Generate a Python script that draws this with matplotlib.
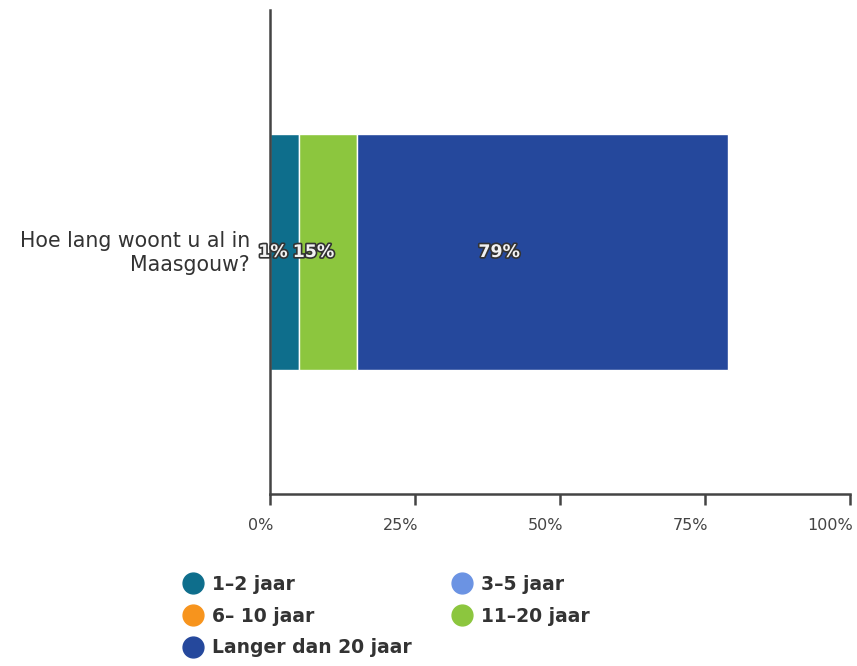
import matplotlib
matplotlib.use("Agg")
import matplotlib.pyplot as plt
import matplotlib.patheffects as pe
import matplotlib.transforms as mtransforms
from matplotlib.lines import Line2D

# data
question = "Hoe lang woont u al in\nMaasgouw?"
series = ["1–2 jaar", "3–5 jaar", "6– 10 jaar", "11–20 jaar", "Langer dan 20 jaar"]
values = [5, 0, 0, 10, 64]
colors = ["#0e6e8c", "#6b93e3", "#f7941d", "#8cc63e", "#25489c"]
# data labels as shown in the chart (drawn at half of their value)
label_values = [1, 15, 79]
ticks = [0, 25, 50, 75, 100]

fig = plt.figure(figsize=(8.57, 6.66), dpi=100)
ax = fig.add_axes([270 / 857, 1 - 494 / 666, 580 / 857, 484 / 666])

left = 0
for name, val, col in zip(series, values, colors):
    if val > 0:
        ax.barh(0, val, left=left, height=0.486, color=col, edgecolor="white", linewidth=1)
    left += val

for v in label_values:
    ax.text(v / 2, 0, f"{v}%", ha="center", va="center", fontsize=12.5, fontweight="bold",
            color="#f2f2f2", path_effects=[pe.withStroke(linewidth=2.4, foreground="#333333")])

ax.set_xlim(0, 100)
ax.set_ylim(-0.5, 0.5)
ax.invert_yaxis()
ax.set_yticks([])
ax.set_xticks(ticks)
ax.set_xticklabels([f"{t}%" for t in ticks], fontsize=11.5, color="#444444")
ax.tick_params(axis="x", length=8, width=1.8, color="#444444", pad=9)
# labels sit just left of their tick, like in the original
shift = mtransforms.ScaledTranslation(3 / 100, 0, fig.dpi_scale_trans)
for lab in ax.get_xticklabels():
    lab.set_horizontalalignment("right")
    lab.set_transform(lab.get_transform() + shift)
for side in ["top", "right"]:
    ax.spines[side].set_visible(False)
for side in ["left", "bottom"]:
    ax.spines[side].set_linewidth(1.8)
    ax.spines[side].set_color("#444444")

fig.text(250 / 857, 1 - 253 / 666, question, ha="right", va="center", fontsize=14.8,
         color="#333333", linespacing=1.25, multialignment="right")

handles = [Line2D([], [], linestyle="none", marker="o", markersize=15, color=c) for c in colors]
order = [0, 2, 4, 1, 3]
fig.legend([handles[i] for i in order], [series[i] for i in order], ncol=2,
           loc="upper left", bbox_to_anchor=(165 / 857, 1 - 558 / 666), frameon=False,
           prop={"size": 13.5, "weight": "bold"}, labelcolor="#333333",
           handletextpad=0.4, columnspacing=2.08, labelspacing=0.68, handlelength=1.2)

fig.savefig("out.png", dpi=100)
